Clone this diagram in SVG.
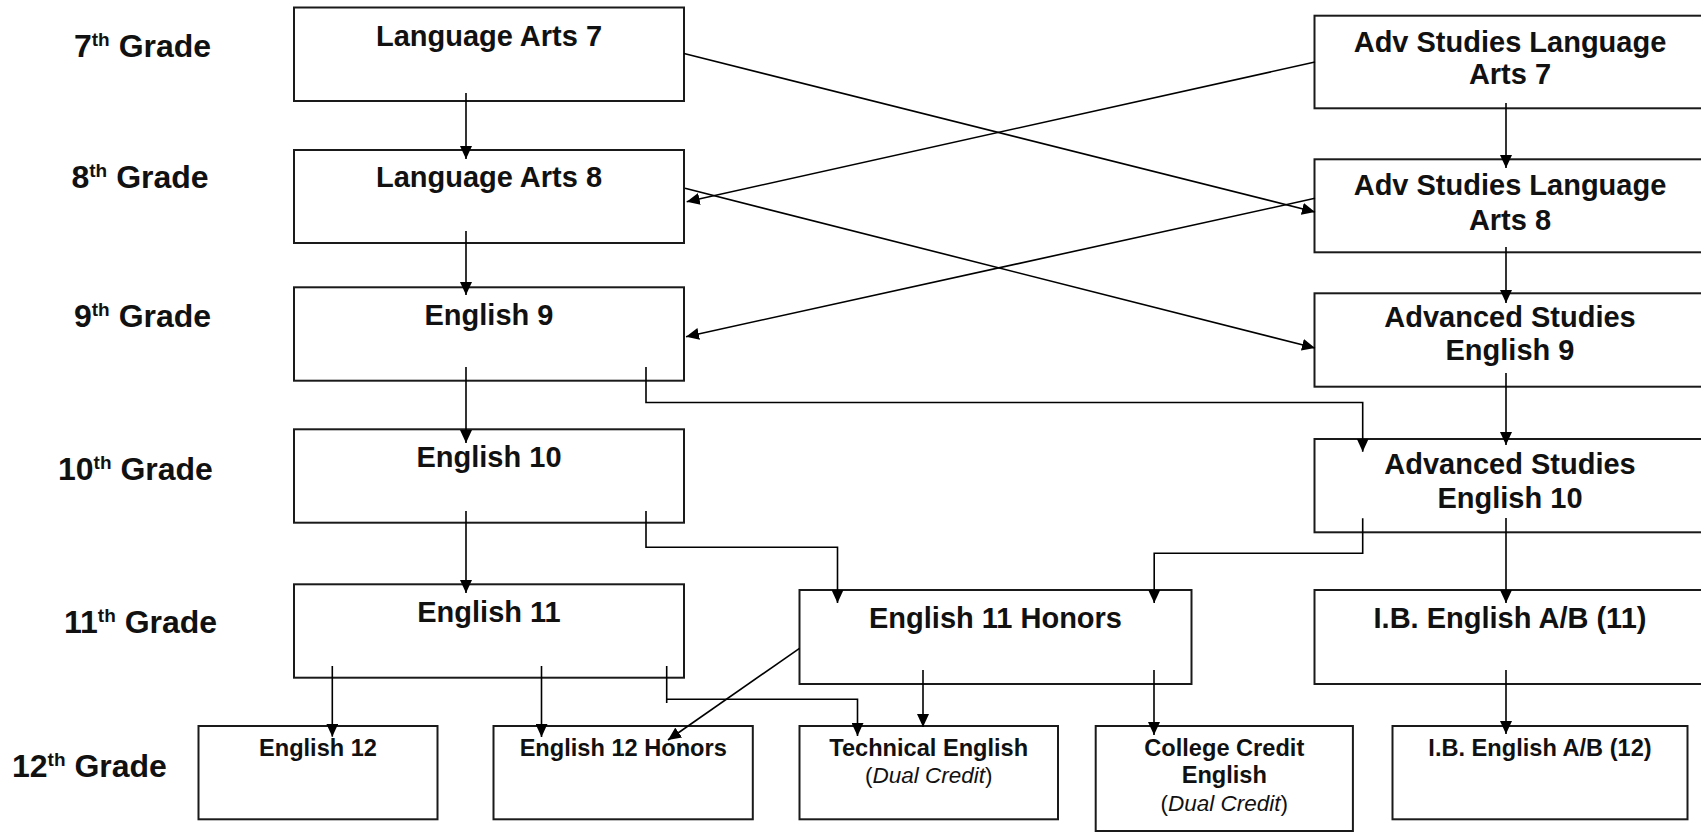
<svg xmlns="http://www.w3.org/2000/svg" width="1701" height="833" viewBox="0 0 1701 833">
<defs>
<marker id="ah" markerUnits="userSpaceOnUse" markerWidth="13" markerHeight="12" refX="13" refY="6" orient="auto"><path d="M0,0 L13,6 L0,12 z" fill="#000"/></marker>
<style>
.box{fill:#fff;stroke:#1a1a1a;stroke-width:2}
.t{font-family:"Liberation Sans",Arial,sans-serif;font-weight:bold;fill:#111;text-anchor:middle}
.l{font-size:29px}
.s{font-size:23.6px}
.g{font-family:"Liberation Sans",Arial,sans-serif;font-weight:bold;font-size:32px;fill:#111}
.sup{font-size:19px}
.c{fill:none;stroke:#000;stroke-width:1.6;marker-end:url(#ah)}
.p{fill:none;stroke:#000;stroke-width:1.6}
.dc{font-weight:normal;font-size:22.5px}
</style>
</defs>
<rect x="0" y="0" width="1701" height="833" fill="#fff"/>

<g id="grade-labels">
<text class="g" x="74" y="57.3">7<tspan class="sup" dy="-11">th</tspan><tspan dy="11"> Grade</tspan></text>
<text class="g" x="71.5" y="188.3">8<tspan class="sup" dy="-11">th</tspan><tspan dy="11"> Grade</tspan></text>
<text class="g" x="74" y="326.7">9<tspan class="sup" dy="-11">th</tspan><tspan dy="11"> Grade</tspan></text>
<text class="g" x="58" y="480">10<tspan class="sup" dy="-11">th</tspan><tspan dy="11"> Grade</tspan></text>
<text class="g" x="64" y="633.3">11<tspan class="sup" dy="-11">th</tspan><tspan dy="11"> Grade</tspan></text>
<text class="g" x="12" y="776.7">12<tspan class="sup" dy="-11">th</tspan><tspan dy="11"> Grade</tspan></text>
</g>

<g id="language-arts-7"><rect class="box" x="294" y="7.5" width="390" height="93.5"/><text class="t l" x="489" y="45.7">Language Arts 7</text></g>
<g id="language-arts-8"><rect class="box" x="294" y="150" width="390" height="93"/><text class="t l" x="489" y="186.7">Language Arts 8</text></g>
<g id="english-9"><rect class="box" x="294" y="287.3" width="390" height="93.4"/><text class="t l" x="489" y="325">English 9</text></g>
<g id="english-10"><rect class="box" x="294" y="429.3" width="390" height="93.4"/><text class="t l" x="489" y="466.7">English 10</text></g>
<g id="english-11"><rect class="box" x="294" y="584.3" width="390" height="93.4"/><text class="t l" x="489" y="621.7">English 11</text></g>

<g id="adv-la-7"><rect class="box" x="1314.5" y="15.7" width="390" height="92.6"/><text class="t l" x="1510" y="51.5">Adv Studies Language</text><text class="t l" x="1510" y="84">Arts 7</text></g>
<g id="adv-la-8"><rect class="box" x="1314.5" y="159.3" width="390" height="93"/><text class="t l" x="1510" y="195">Adv Studies Language</text><text class="t l" x="1510" y="229.5">Arts 8</text></g>
<g id="adv-english-9"><rect class="box" x="1314.5" y="293.3" width="390" height="93.4"/><text class="t l" x="1510" y="326.7">Advanced Studies</text><text class="t l" x="1510" y="360">English 9</text></g>
<g id="adv-english-10"><rect class="box" x="1314.5" y="439" width="390" height="93.3"/><text class="t l" x="1510" y="474">Advanced Studies</text><text class="t l" x="1510" y="508.3">English 10</text></g>

<g id="english-11-honors"><rect class="box" x="799.5" y="590" width="392" height="94"/><text class="t l" x="995.5" y="628.3">English 11 Honors</text></g>
<g id="ib-english-11"><rect class="box" x="1314.5" y="590" width="390" height="94"/><text class="t l" x="1510" y="628.3">I.B. English A/B (11)</text></g>

<g id="english-12"><rect class="box" x="198.5" y="726" width="239" height="93.3"/><text class="t s" x="318" y="756">English 12</text></g>
<g id="english-12-honors"><rect class="box" x="493.5" y="726" width="259.3" height="93.3"/><text class="t s" x="623.2" y="756">English 12 Honors</text></g>
<g id="technical-english"><rect class="box" x="799.5" y="726" width="258.5" height="93.3"/><text class="t s" x="928.7" y="756">Technical English</text><text class="t dc" x="928.7" y="783.3">(<tspan font-style="italic">Dual Credit</tspan>)</text></g>
<g id="college-credit-english"><rect class="box" x="1095.7" y="726" width="257.2" height="105"/><text class="t s" x="1224.3" y="756">College Credit</text><text class="t s" x="1224.3" y="783.3">English</text><text class="t dc" x="1224.3" y="811">(<tspan font-style="italic">Dual Credit</tspan>)</text></g>
<g id="ib-english-12"><rect class="box" x="1392.5" y="726" width="295" height="93.3"/><text class="t s" x="1540" y="756">I.B. English A/B (12)</text></g>

<g id="connectors">
<path class="c" d="M466,93 V159"/>
<path class="c" d="M466,231 V295"/>
<path class="c" d="M466,367 V443"/>
<path class="c" d="M466,511 V593"/>
<path class="c" d="M646,367 V402.5 H1362.7 V451.7"/>
<path class="c" d="M646,511 V547.3 H837.5 V603"/>
<path class="c" d="M1362.7,518.3 V553.3 H1154.2 V603"/>
<path class="c" d="M1506,103 V168"/>
<path class="c" d="M1506,247 V303"/>
<path class="c" d="M1506,373 V445"/>
<path class="c" d="M1506,518 V603"/>
<path class="c" d="M1506,670 V734"/>
<path class="c" d="M923,670 V727"/>
<path class="c" d="M1154,670 V735"/>
<path class="p" d="M666.7,666 V703"/>
<path class="c" d="M666.7,699.3 H857.5 V736"/>
<path class="c" d="M332.3,666 V736.7"/>
<path class="c" d="M541.5,666 V737"/>
<path class="c" d="M799.5,648.3 L668,740"/>
<path class="c" d="M684,53.5 L1315,212"/>
<path class="c" d="M1315,62 L686.7,201.7"/>
<path class="c" d="M685,188.3 L1315,348"/>
<path class="c" d="M1315,198.3 L686,336.7"/>
</g>
</svg>
